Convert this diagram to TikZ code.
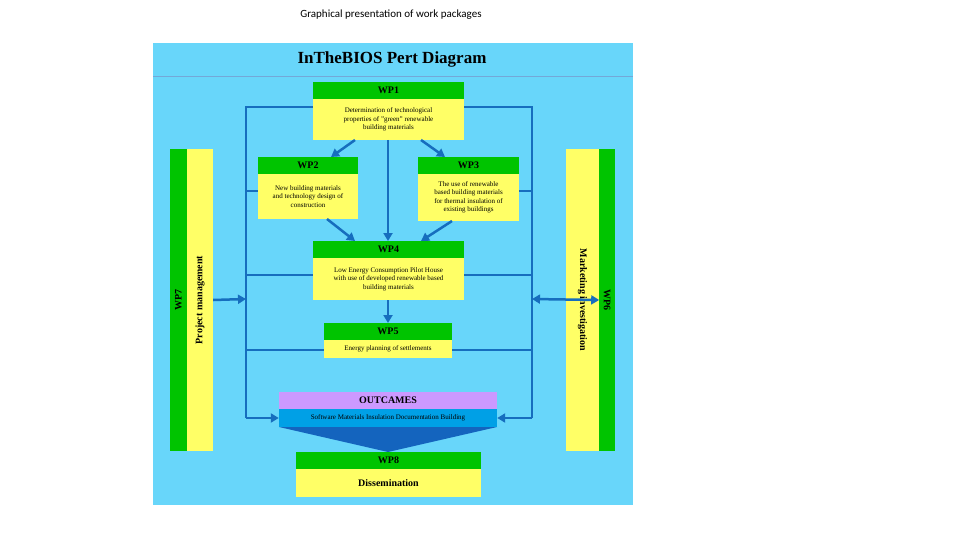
\documentclass[tikz,border=0pt]{standalone}
\usepackage{fontspec}
\setmainfont{Liberation Serif}
\newfontfamily\headfont{Carlito}
\usetikzlibrary{arrows.meta}
\definecolor{panel}{RGB}{104,214,250}
\definecolor{gr}{RGB}{0,196,0}
\definecolor{ye}{RGB}{255,255,102}
\definecolor{ln}{RGB}{22,110,190}
\definecolor{pu}{RGB}{204,153,255}
\definecolor{bb}{RGB}{0,160,230}
\definecolor{db}{RGB}{20,100,190}
\tikzset{
 hdr/.style={fill=gr,inner sep=0pt,font=\bfseries\fontsize{10}{11}\selectfont},
 bdy/.style={fill=ye,inner sep=0pt,align=center,font=\fontsize{7}{8.5}\selectfont},
 conn/.style={draw=ln,line width=2.5pt},
 arr/.style={conn,-{Triangle[length=8pt,width=9pt]}},
}
\begin{document}
\begin{tikzpicture}[x=1pt,y=-1pt]
\useasboundingbox (0,0) rectangle (960,540);
\node[font=\headfont\fontsize{11}{13}\selectfont] (h) at (391,15) {Graphical presentation of work packages};
\fill[panel] (153,43) rectangle (633,505);
\draw[ln!60,line width=0.6pt] (153,76) -- (633,76);
\node[font=\bfseries\fontsize{17}{19}\selectfont] (t) at (392,59) {InTheBIOS Pert Diagram};
% connectors first
\coordinate (L1) at (246,107); \coordinate (L4) at (246,418);
\coordinate (R1) at (532,107); \coordinate (R4) at (532,418);
\draw[conn] (313,107) -- (L1) -- (L4);
\draw[conn] (464,107) -- (R1) -- (R4);
\draw[conn] (246,191) -- (258,191); \draw[conn] (519,191) -- (532,191);
\draw[conn] (246,275) -- (313,275); \draw[conn] (464,275) -- (532,275);
\draw[conn] (246,350) -- (324,350); \draw[conn] (452,350) -- (532,350);
% boxes
\node[hdr,minimum width=151pt,minimum height=17pt] (w1h) at (388.5,90.5) {WP1};
\node[bdy,minimum width=151pt,minimum height=41pt] (w1) at (388.5,119.5) {Determination of technological\\properties of "green" renewable\\building materials};
\node[hdr,minimum width=100pt,minimum height=17pt] (w2h) at (308,165.5) {WP2};
\node[bdy,minimum width=100pt,minimum height=45pt] (w2) at (308,196.5) {New building materials\\and technology design of\\construction};
\node[hdr,minimum width=101pt,minimum height=17pt] (w3h) at (468.5,165.5) {WP3};
\node[bdy,minimum width=101pt,minimum height=47pt] (w3) at (468.5,197.5) {The use of renewable\\based building materials\\for thermal insulation of\\existing buildings};
\node[hdr,minimum width=151pt,minimum height=17pt] (w4h) at (388.5,249.5) {WP4};
\node[bdy,minimum width=151pt,minimum height=42pt] (w4) at (388.5,279) {Low Energy Consumption Pilot House\\with use of developed renewable based\\building materials};
\node[hdr,minimum width=128pt,minimum height=17pt] (w5h) at (388,331.5) {WP5};
\node[bdy,minimum width=128pt,minimum height=18pt] (w5) at (388,349) {Energy planning of settlements};
\fill[db] (279,427) -- (497,427) -- (388,452) -- cycle;
\node[fill=pu,inner sep=0pt,minimum width=218pt,minimum height=17pt,font=\bfseries\fontsize{10}{11}\selectfont] (oh) at (388,400.5) {OUTCAMES};
\node[fill=bb,inner sep=0pt,minimum width=218pt,minimum height=18pt,font=\fontsize{7}{8}\selectfont] (o) at (388,418) {Software Materials Insulation Documentation Building};
\node[hdr,minimum width=185pt,minimum height=17pt] (w8h) at (388.5,460.5) {WP8};
\node[fill=ye,inner sep=0pt,minimum width=185pt,minimum height=28pt,font=\bfseries\fontsize{10}{11}\selectfont] (w8) at (388.5,483) {Dissemination};
% side bars
\node[hdr,minimum width=302pt,minimum height=17pt,rotate=90] (w7h) at (178.5,300) {WP7};
\node[fill=ye,inner sep=0pt,minimum width=302pt,minimum height=26pt,rotate=90,font=\bfseries\fontsize{10}{11}\selectfont] (w7) at (200,300) {Project management};
\node[fill=ye,inner sep=0pt,minimum width=302pt,minimum height=33pt,rotate=-90,font=\bfseries\fontsize{10}{11}\selectfont] (w6) at (582.5,300) {Marketing investigation};
\node[hdr,minimum width=302pt,minimum height=16pt,rotate=-90] (w6h) at (607,300) {WP6};
% arrows
\draw[arr] (355,140) -- (331,157);
\draw[arr] (421,140) -- (445,157);
\draw[arr] (388,140) -- (388,241);
\draw[arr] (327,219) -- (355,241);
\draw[arr] (452,221) -- (421,241);
\draw[arr] (388,300) -- (388,323);
\draw[arr] (L4) -- (o.west);
\draw[arr] (R4) -- (o.east);
\draw[arr] (w7.south) -- (246,299);
\draw[conn,{Triangle[length=8pt,width=9pt]}-{Triangle[length=8pt,width=9pt]}] (532,299) -- (w6.north);
\end{tikzpicture}
\end{document}
